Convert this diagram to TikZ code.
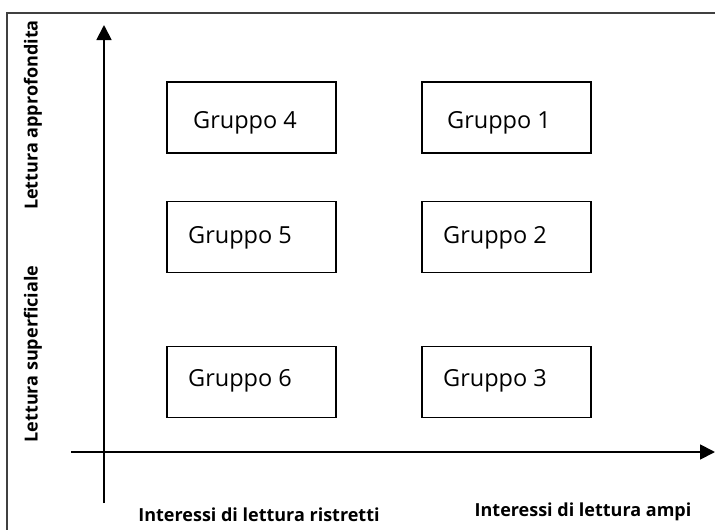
\documentclass[tikz,border=0pt]{standalone}
\usepackage{fontspec}
\setmainfont{Open Sans}
\usetikzlibrary{arrows.meta}
\begin{document}
\begin{tikzpicture}[x=1pt,y=-1pt,
  frameline/.style={draw=black!75,line width=1.3pt},
  axisline/.style={line width=1.8pt,-{Triangle[length=15pt,width=15pt]}},
  groupbox/.style={draw,line width=1.4pt,minimum width=169pt,minimum height=71pt,inner sep=0pt},
  grouptext/.style={anchor=base west,inner sep=0pt,font=\fontsize{23.5}{28}\selectfont},
  axislabel/.style={inner sep=0pt,font=\fontsize{18}{21}\selectfont\bfseries}]
\useasboundingbox (0,0) rectangle (715,530);
% outer frame, open towards right and bottom
\draw[frameline] (7,531) -- (7,13) -- (716,13);

% axes
\coordinate (yfoot) at (104,503);
\coordinate (ytip) at (104,25);
\coordinate (xfoot) at (71,452);
\coordinate (xtip) at (715,452);
\draw[axisline] (yfoot) -- (ytip);
\draw[axisline] (xfoot) -- (xtip);

% group boxes
\node[groupbox] (g4) at (251.5,117.5) {};
\node[groupbox] (g1) at (506.5,117.5) {};
\node[groupbox] (g5) at (251.5,237) {};
\node[groupbox] (g2) at (506.5,237) {};
\node[groupbox] (g6) at (251.5,382) {};
\node[groupbox] (g3) at (506.5,382) {};

\node[grouptext] (t4) at (193,128) {Gruppo 4};
\node[grouptext] (t1) at (447,128) {Gruppo 1};
\node[grouptext] (t5) at (188,243) {Gruppo 5};
\node[grouptext] (t2) at (443,243) {Gruppo 2};
\node[grouptext] (t6) at (188,386) {Gruppo 6};
\node[grouptext] (t3) at (443,386) {Gruppo 3};

% axis labels
\node[axislabel,rotate=90] (ldeep) at (33,115) {Lettura approfondita};
\node[axislabel,rotate=90] (lsurf) at (33,354) {Lettura superficiale};
\node[axislabel] (lnarrow) at (259,515) {Interessi di lettura ristretti};
\node[axislabel] (lwide) at (583,512) {Interessi di lettura ampi};
\end{tikzpicture}
\end{document}
